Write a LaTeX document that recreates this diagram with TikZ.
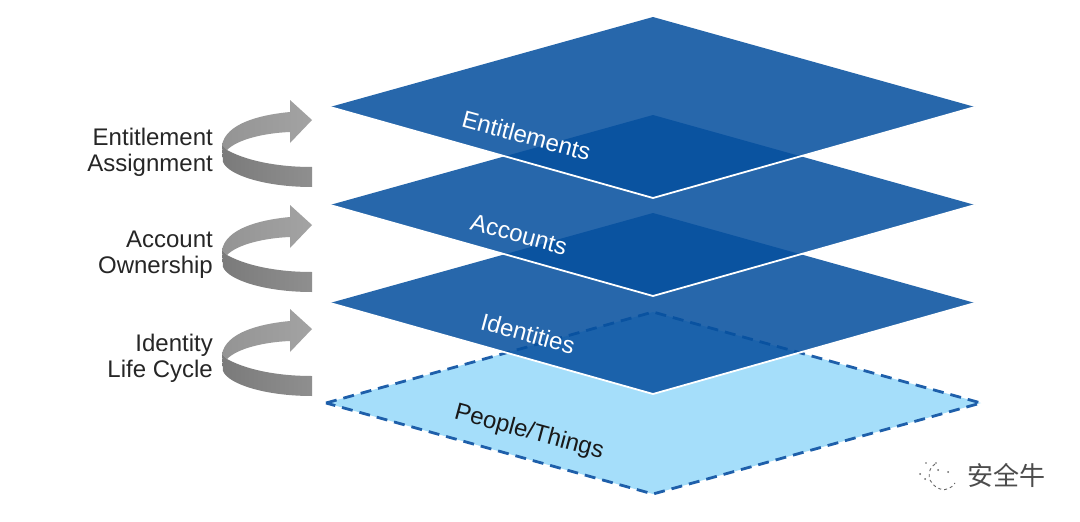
\documentclass[tikz,border=0pt]{standalone}
\usepackage{fontspec}
\setmainfont{Liberation Sans}
\newfontfamily\cjk{Noto Sans CJK SC}
\definecolor{plane}{RGB}{6,80,159}
\definecolor{sky}{RGB}{165,222,250}
\definecolor{dashblue}{RGB}{30,95,170}
\tikzset{
 planefill/.style={fill=plane,fill opacity=.865,draw=none},
 rim/.style={draw=white,line width=1.8pt,line join=miter},
 layerlabel/.style={text=white,font=\fontsize{24}{26}\selectfont,rotate=-15.2,inner sep=0pt},
 sidelabel/.style={text=black!85,font=\fontsize{24}{26}\selectfont,align=right,anchor=east,inner sep=0pt},
}
\newcommand{\layer}[1]{%
 \fill[planefill] (330,#1) -- (653,#1-90) -- (975,#1) -- (653,#1+91) -- cycle;
 \draw[rim] (330,#1) -- (653,#1+91) -- (975,#1);
}
\newcommand{\swoosh}[1]{%
 \begin{scope}[shift={(0,#1)}]
 \shade[left color=black!42,right color=black!36]
   (222,145) .. controls (226,124) and (258,115) .. (290,112) -- (290,100) -- (312,120) -- (290,143) -- (290,132)
   .. controls (265,133) and (238,139) .. (227,150) -- cycle;
 \shade[left color=black!52,right color=black!44]
   (222,145) -- (227,150) .. controls (245,160) and (275,167) .. (312,167) -- (312,187)
   .. controls (265,187) and (228,175) .. (223,162) -- cycle;
 \end{scope}
}
\begin{document}
\begin{tikzpicture}[x=1pt,y=-1pt]
\useasboundingbox (0,0) rectangle (1080,522);
\fill[white] (0,0) rectangle (1080,522);
% base plane
\fill[sky] (326,403) -- (653,312) -- (981,403) -- (653,494) -- cycle;
\draw[dashblue,line width=2.8pt,dash pattern=on 11pt off 7pt] (326,403) -- (653,312) -- (981,403) -- (653,494) -- cycle;
\layer{303}
\layer{205}
\layer{107}
% layer labels
\node[layerlabel] (ent) at (526.5,135.5) {Entitlements};
\node[layerlabel] (acc) at (519,234.5) {Accounts};
\node[layerlabel] (ide) at (528,333.5) {Identities};
\node[layerlabel,text=black!90] (peo) at (529,432.5) {People/Things};
% side labels
\node[sidelabel] (sa) at (213,152) {Entitlement\\Assignment};
\node[sidelabel] (sb) at (213,255) {Account\\Ownership};
\node[sidelabel] (sc) at (213,358) {Identity\\Life Cycle};
\swoosh{0}
\swoosh{105}
\swoosh{209}
% watermark
\draw[black!60,line width=.9pt,dash pattern=on 3pt off 3pt] (935,464) .. controls (926,470) and (927,484) .. (940,489) .. controls (946,491) and (952,488) .. (955,483);
\fill[black!60] (920,474) circle (1pt) (925,479) circle (1pt) (938,470) circle (1pt) (948,472) circle (1pt) (926,463) circle (.8pt) (936,463) circle (.8pt);
\node[text=black!70,font=\cjk\fontsize{26}{28}\selectfont,inner sep=0pt] (wm) at (1006,475) {安全牛};
\end{tikzpicture}
\end{document}
